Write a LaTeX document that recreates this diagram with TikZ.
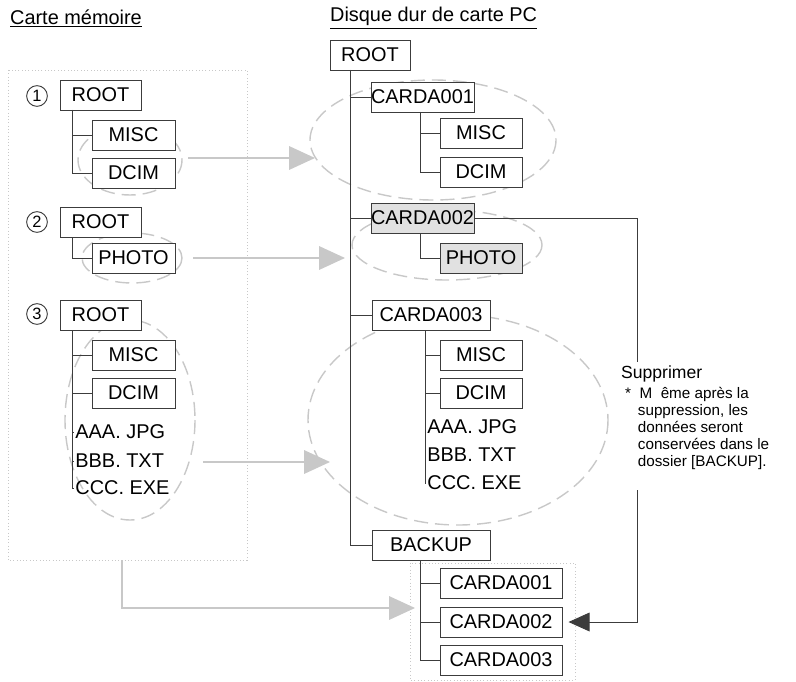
\documentclass[tikz,border=0pt]{standalone}
\usepackage{fontspec}
\setmainfont{Liberation Sans}
\usepackage{xcolor}
\usetikzlibrary{calc}
\usetikzlibrary{arrows.meta}
\definecolor{dir-light}{RGB}{200, 200, 200}
\definecolor{dir-fill}{RGB}{225, 225, 225}
\definecolor{dir-line}{RGB}{60, 60, 60}

\tikzset{
  dir/.style = {draw=dir-line, fill=white, thick, inner sep=0pt, minimum height=0.9cm, font=\fontsize{17}{19}\selectfont},
  leaf/.style = {inner sep=1pt, font=\fontsize{17}{19}\selectfont},
  num/.style = {circle, draw=dir-line, thick, inner sep=0pt, minimum size=0.62cm, font=\fontsize{14}{15}\selectfont},
  tree/.style = {dir-line, thick},
  group/.style = {dir-light, very thick, dash pattern=on 12pt off 6pt},
  move/.style = {dir-light, very thick, -{Triangle[length=22pt, width=20pt]}},
  frame/.style = {dir-light, thick, dotted}
}

\begin{document}
\begin{tikzpicture}[x=0.03cm, y=-0.03cm]
          \useasboundingbox (0, 0) rectangle (796, 681);

          \node[anchor=west, font=\fontsize{17}{19}\selectfont] (t-card) at (6, 18) {\underline{Carte mémoire}};
          \node[anchor=west, font=\fontsize{17}{19}\selectfont] (t-disk) at (326, 18) {\underline{Disque dur de carte PC}};

          % groups and frames
          \draw[frame] (8, 70) rectangle (247, 560);
          \draw[frame] (410, 563) rectangle (575, 680);
          \draw[group] (130, 160) ellipse[x radius=52, y radius=35];
          \draw[group] (132, 258) ellipse[x radius=50, y radius=25];
          \draw[group] (130, 420) ellipse[x radius=65, y radius=100];
          \draw[group] (433, 140) ellipse[x radius=123, y radius=60];
          \draw[group] (447, 245) ellipse[x radius=95, y radius=35];
          \draw[group] (458, 420) ellipse[x radius=150, y radius=105];

          % memory card
          \node[num] (n1) at (37, 96) {1};
          \node[dir, minimum width=2.43cm] (c1-root) at (100.5, 95) {ROOT};
          \node[dir, minimum width=2.49cm] (c1-misc) at (133.5, 135) {MISC};
          \node[dir, minimum width=2.49cm] (c1-dcim) at (133.5, 173) {DCIM};
          \draw[tree] (72, 110) |- (c1-misc.west) (72, 135) |- (c1-dcim.west);

          \node[num] (n2) at (37, 222) {2};
          \node[dir, minimum width=2.43cm] (c2-root) at (100.5, 222) {ROOT};
          \node[dir, minimum width=2.49cm] (c2-photo) at (133.5, 258) {PHOTO};
          \draw[tree] (72, 237) |- (c2-photo.west);

          \node[num] (n3) at (37, 314) {3};
          \node[dir, minimum width=2.43cm] (c3-root) at (100.5, 315) {ROOT};
          \node[dir, minimum width=2.49cm] (c3-misc) at (133.5, 355) {MISC};
          \node[dir, minimum width=2.49cm] (c3-dcim) at (133.5, 393) {DCIM};
          \node[leaf, anchor=west] (c3-aaa) at (74, 432) {AAA. JPG};
          \node[leaf, anchor=west] (c3-bbb) at (74, 461) {BBB. TXT};
          \node[leaf, anchor=west] (c3-ccc) at (74, 488) {CCC. EXE};
          \draw[tree] (72, 330) |- (c3-misc.west) (72, 355) |- (c3-dcim.west)
                      (72, 393) |- (c3-aaa.west) (72, 432) |- (c3-bbb.west) (72, 461) |- (c3-ccc.west);

          % PC card hard disk
          \node[dir, minimum width=2.4cm] (d-root) at (370, 55) {ROOT};
          \node[dir, minimum width=3.03cm] (d-a1) at (422.5, 97) {CARDA001};
          \node[dir, minimum width=2.46cm] (d-a1-misc) at (481, 133) {MISC};
          \node[dir, minimum width=2.46cm] (d-a1-dcim) at (481, 172) {DCIM};
          \node[dir, minimum width=3.03cm, fill=dir-fill] (d-a2) at (422.5, 218) {CARDA002};
          \node[dir, minimum width=2.46cm, fill=dir-fill] (d-a2-photo) at (481, 258) {PHOTO};
          \node[dir, minimum width=3.54cm] (d-a3) at (431, 315) {CARDA003};
          \node[dir, minimum width=2.46cm] (d-a3-misc) at (481, 355) {MISC};
          \node[dir, minimum width=2.46cm] (d-a3-dcim) at (481, 393) {DCIM};
          \node[leaf, anchor=west] (d-a3-aaa) at (426, 427) {AAA. JPG};
          \node[leaf, anchor=west] (d-a3-bbb) at (426, 455) {BBB. TXT};
          \node[leaf, anchor=west] (d-a3-ccc) at (426, 483) {CCC. EXE};
          \node[dir, minimum width=3.54cm] (d-bk) at (431, 545) {BACKUP};
          \node[dir, minimum width=3.66cm] (d-bk-a1) at (501, 583) {CARDA001};
          \node[dir, minimum width=3.66cm] (d-bk-a2) at (501, 622) {CARDA002};
          \node[dir, minimum width=3.66cm] (d-bk-a3) at (501, 660) {CARDA003};

          \draw[tree] (350, 70) |- (d-a1.west) (350, 97) |- (d-a2.west) (350, 218) |- (d-a3.west) (350, 315) |- (d-bk.west);
          \draw[tree] (420, 112) |- (d-a1-misc.west) (420, 133) |- (d-a1-dcim.west);
          \draw[tree] (420, 233) |- (d-a2-photo.west);
          \draw[tree] (425, 330) |- (d-a3-misc.west) (425, 355) |- (d-a3-dcim.west)
                      (425, 393) |- (d-a3-aaa.west) (425, 427) |- (d-a3-bbb.west) (425, 455) |- (d-a3-ccc.west);
          \draw[tree] (420, 560) |- (d-bk-a1.west) (420, 583) |- (d-bk-a2.west) (420, 622) |- (d-bk-a3.west);

          % copies
          \coordinate (m1) at (188, 158);
          \coordinate (m2) at (193, 258);
          \coordinate (m3) at (203, 462);
          \coordinate (m4) at (122, 560);
          \draw[move] (m1) -- (315, 158);
          \draw[move] (m2) -- (345, 258);
          \draw[move] (m3) -- (330, 462);
          \draw[move] (m4) |- (415, 608);

          % delete
          \node[anchor=north west, align=left, font=\fontsize{15}{16}\selectfont] (del) at (617, 362) {Supprimer};
          \node[anchor=north west, align=left, inner sep=0pt, font=\fontsize{13}{14.5}\selectfont] (note) at (625, 387)
            {*\ \ M\ \ ême après la\\\ \ \ suppression, les\\\ \ \ données seront\\\ \ \ conservées dans le\\\ \ \ dossier [BACKUP].};
          \coordinate (del-top) at (637, 362);
          \coordinate (del-bot) at (637, 490);
          \draw[tree] (d-a2.east) -| (del-top);
          \draw[tree, -{Triangle[length=18pt, width=16pt]}] (del-bot) |- ($(d-bk-a2.east) + (6, 0)$);
\end{tikzpicture}
\end{document}
